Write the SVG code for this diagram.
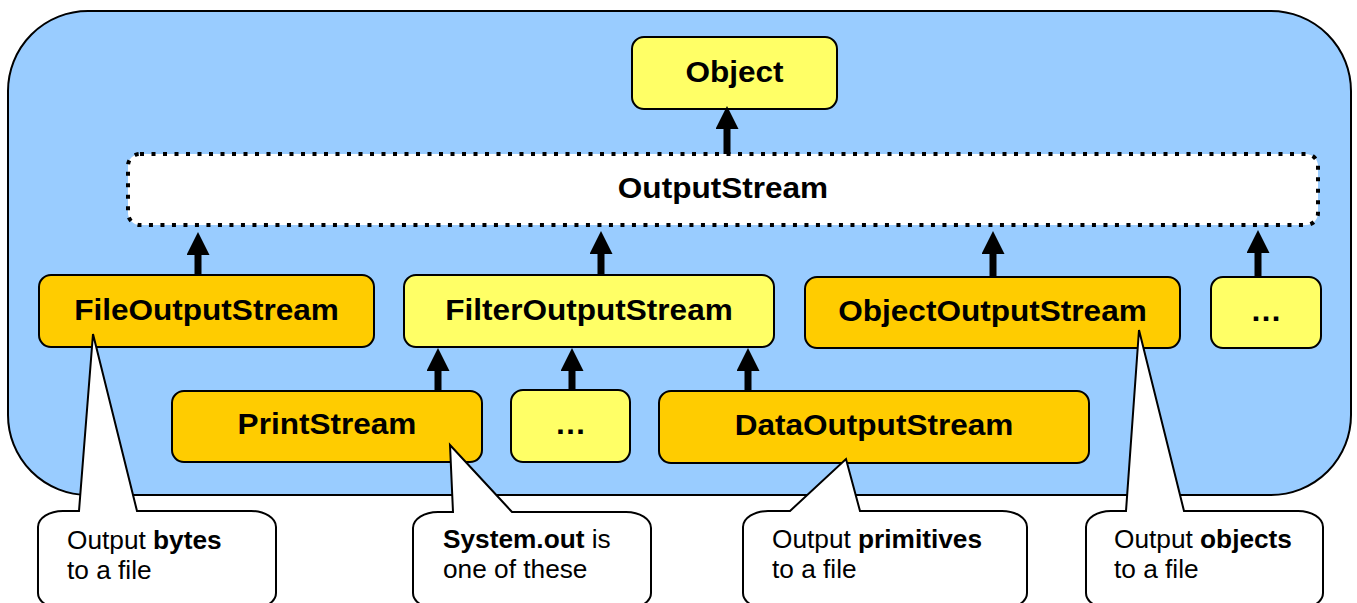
<svg xmlns="http://www.w3.org/2000/svg" width="1357" height="603" viewBox="0 0 1357 603">
<defs>
<style>
.node{stroke:#000;stroke-width:2}
.y{fill:#FFFF66}
.o{fill:#FFCC00}
.lbl{font-family:"Liberation Sans",Arial,sans-serif;font-weight:bold;font-size:29.5px;fill:#000;text-anchor:middle}
.conn{stroke:#000;stroke-width:7;fill:none;marker-end:url(#ah)}
.call{fill:#fff;stroke:#000;stroke-width:2;stroke-linejoin:miter}
.ct{font-family:"Liberation Sans",Arial,sans-serif;font-size:25px;fill:#000}
.b{font-weight:bold}
</style>
<marker id="ah" viewBox="0 0 23 23" refX="1" refY="11.5" markerWidth="23" markerHeight="23" markerUnits="userSpaceOnUse" orient="auto">
<path d="M0,0 L23,11.5 L0,23 Z" fill="#000"/>
</marker>
</defs>

<rect id="frame" x="8" y="11" width="1343" height="484" rx="80" ry="80" fill="#99CCFF" stroke="#000" stroke-width="2"/>

<g id="node-object">
<rect class="node y" x="632" y="37" width="205" height="72" rx="12"/>
<text class="lbl" transform="matrix(1.07 0 0 1 734.5 82)">Object</text>
</g>
<g id="node-outputstream">
<rect x="128" y="154" width="1190" height="71" rx="12" fill="#fff" stroke="#000" stroke-width="4" stroke-dasharray="4 7.5"/>
<text class="lbl" transform="matrix(1.07 0 0 1 723 198)">OutputStream</text>
</g>
<g id="node-fileoutputstream">
<rect class="node o" x="39" y="275" width="335" height="72" rx="12"/>
<text class="lbl" transform="matrix(1.07 0 0 1 206.5 319.5)">FileOutputStream</text>
</g>
<g id="node-filteroutputstream">
<rect class="node y" x="404" y="275" width="370" height="72" rx="12"/>
<text class="lbl" transform="matrix(1.07 0 0 1 589 319.5)">FilterOutputStream</text>
</g>
<g id="node-objectoutputstream">
<rect class="node o" x="805" y="277" width="375" height="71" rx="12"/>
<text class="lbl" transform="matrix(1.07 0 0 1 992.5 321)">ObjectOutputStream</text>
</g>
<g id="node-more1">
<rect class="node y" x="1211" y="277" width="110" height="71" rx="12"/>
<text class="lbl" transform="matrix(1.07 0 0 1 1266 321)">…</text>
</g>
<g id="node-printstream">
<rect class="node o" x="172" y="391" width="310" height="71" rx="12"/>
<text class="lbl" transform="matrix(1.07 0 0 1 327 433.5)">PrintStream</text>
</g>
<g id="node-more2">
<rect class="node y" x="511" y="390" width="119" height="72" rx="12"/>
<text class="lbl" transform="matrix(1.07 0 0 1 570.5 434)">…</text>
</g>
<g id="node-dataoutputstream">
<rect class="node o" x="659" y="391" width="430" height="72" rx="12"/>
<text class="lbl" transform="matrix(1.07 0 0 1 874 434.5)">DataOutputStream</text>
</g>

<g id="connectors">
<line class="conn" x1="727" y1="154" x2="727" y2="128"/>
<line class="conn" x1="198" y1="275" x2="198" y2="254"/>
<line class="conn" x1="601" y1="275" x2="601" y2="253"/>
<line class="conn" x1="993" y1="277" x2="993" y2="253"/>
<line class="conn" x1="1258" y1="277" x2="1258" y2="252"/>
<line class="conn" x1="438" y1="391" x2="438" y2="370"/>
<line class="conn" x1="572" y1="390" x2="572" y2="370"/>
<line class="conn" x1="748" y1="391" x2="748" y2="370"/>
</g>

<g id="callout-bytes">
<path class="call" d="M63,511 L79,511 L93,334 L137,511 L251,511 A25,16 0 0 1 276,527 L276,593 A25,16 0 0 1 251,609 L63,609 A25,16 0 0 1 38,593 L38,527 A25,16 0 0 1 63,511 Z"/>
<text class="ct" transform="matrix(1.05 0 0 1 67 549)">Output <tspan class="b">bytes</tspan></text>
<text class="ct" transform="matrix(1.05 0 0 1 67 579)">to a file</text>
</g>
<g id="callout-systemout">
<path class="call" d="M438,512 L453,512 L450,445 L512,512 L626,512 A25,16 0 0 1 651,528 L651,593 A25,16 0 0 1 626,609 L438,609 A25,16 0 0 1 413,593 L413,528 A25,16 0 0 1 438,512 Z"/>
<text class="ct" transform="matrix(1.05 0 0 1 443 548)"><tspan class="b">System.out</tspan> is</text>
<text class="ct" transform="matrix(1.05 0 0 1 443 578)">one of these</text>
</g>
<g id="callout-primitives">
<path class="call" d="M768,511 L790,511 L846,459 L860,511 L1002,511 A25,16 0 0 1 1027,527 L1027,593 A25,16 0 0 1 1002,609 L768,609 A25,16 0 0 1 743,593 L743,527 A25,16 0 0 1 768,511 Z"/>
<text class="ct" transform="matrix(1.05 0 0 1 772 548)">Output <tspan class="b">primitives</tspan></text>
<text class="ct" transform="matrix(1.05 0 0 1 772 578)">to a file</text>
</g>
<g id="callout-objects">
<path class="call" d="M1111,511 L1126,511 L1139,330 L1184,511 L1298,511 A25,16 0 0 1 1323,527 L1323,593 A25,16 0 0 1 1298,609 L1111,609 A25,16 0 0 1 1086,593 L1086,527 A25,16 0 0 1 1111,511 Z"/>
<text class="ct" transform="matrix(1.05 0 0 1 1114 548)">Output <tspan class="b">objects</tspan></text>
<text class="ct" transform="matrix(1.05 0 0 1 1114 578)">to a file</text>
</g>
</svg>
